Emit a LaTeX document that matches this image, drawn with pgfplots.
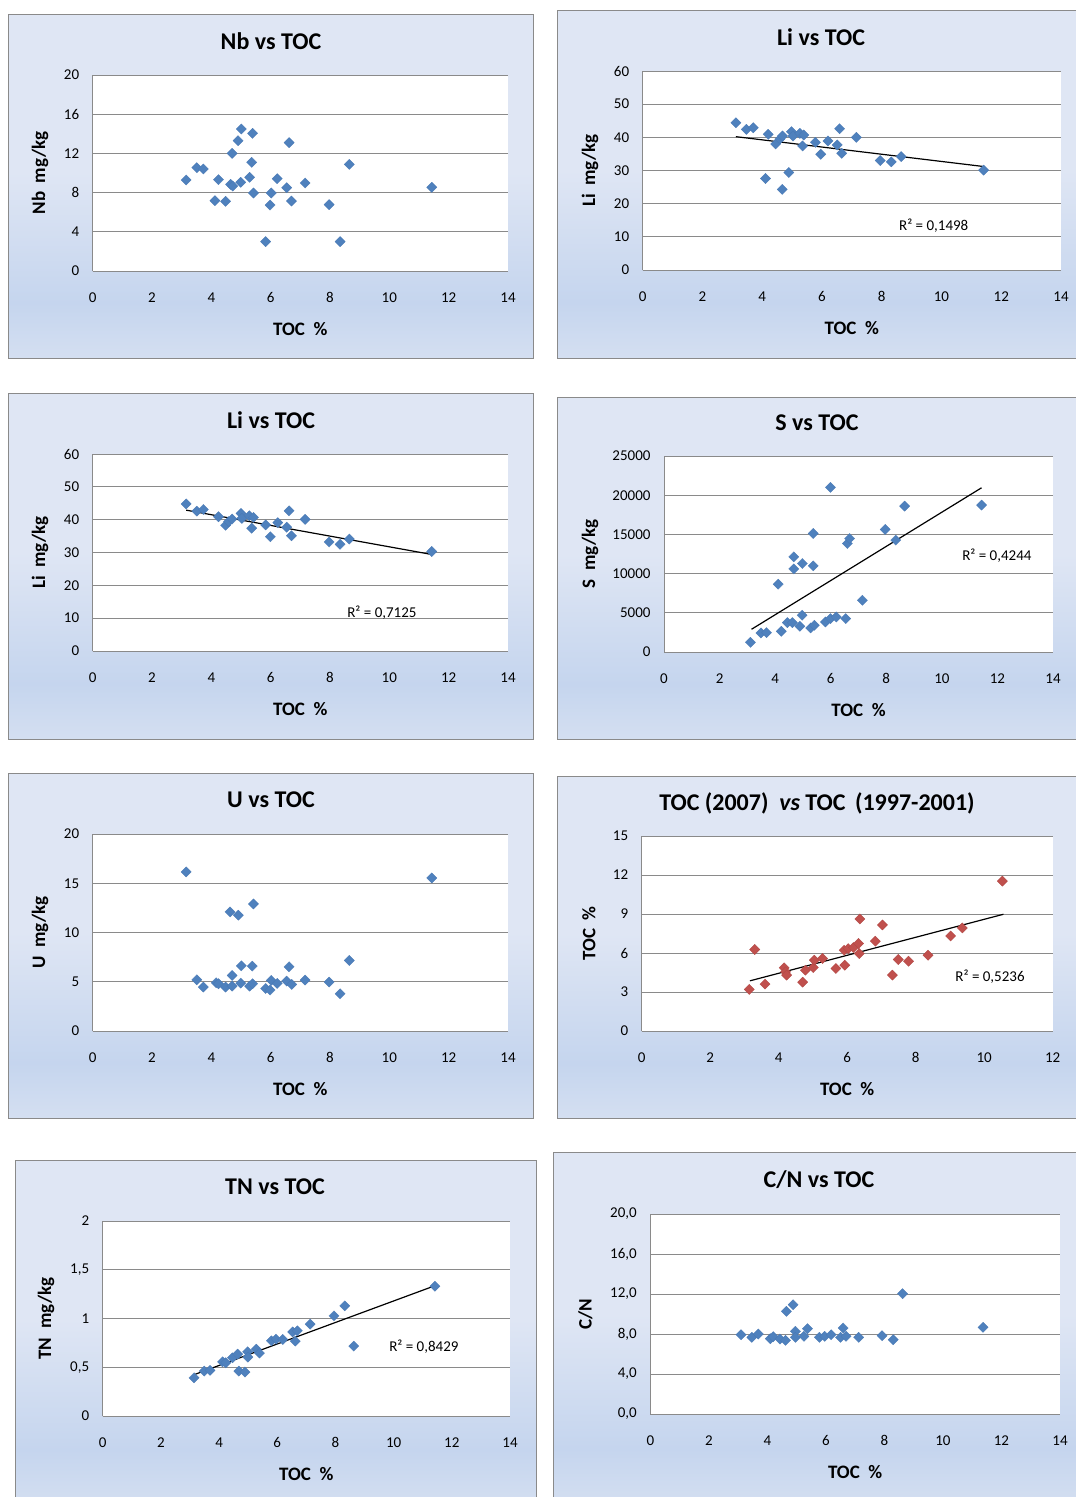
\documentclass[border=0pt]{standalone}
\usepackage{fontspec}
\setmainfont{Carlito}
\usepackage{pgfplots}
\pgfplotsset{compat=1.18}
\definecolor{mblue}{HTML}{4F81BD}
\definecolor{mbluedk}{HTML}{4878B4}
\definecolor{mred}{HTML}{C0504D}
\definecolor{mreddk}{HTML}{B04643}
\definecolor{gridg}{HTML}{8A8A8A}
\definecolor{pa}{HTML}{DFE6F4}
\definecolor{pb}{HTML}{C5D5EE}
\definecolor{pc}{HTML}{D4DFF1}
\pgfdeclareverticalshading{panelshade}{100bp}{color(0bp)=(pc); color(25bp)=(pc); color(33bp)=(pb); color(52bp)=(pa); color(75bp)=(pa); color(100bp)=(pa)}
\pgfplotsset{
  xl/.style={
    scale only axis,
    axis x line*=bottom, axis y line*=left,
    axis line style={gridg, line width=1pt},
    ymajorgrids, grid style={gridg, line width=1pt},
    major tick length=0pt,
    axis background/.style={fill=white},
    tick label style={font=\fontsize{15}{18}\selectfont, text=black},
    /pgf/number format/assume math mode=true,
    /pgf/number format/use comma,
    /pgf/number format/1000 sep={},
    scaled ticks=false,
    xmin=0, xmax=14, xtick={0,2,...,14}, ymin=0,
    xticklabel style={yshift=-18pt},
    yticklabel style={xshift=-10pt},
    xlabel={TOC\ \ \%},
    xlabel style={font=\bfseries\fontsize{19}{22}\selectfont, at={([yshift=-58pt]axis description cs:0.5,0)}, anchor=center},
    ylabel style={font=\bfseries\fontsize{19}{22}\selectfont, anchor=center},
  },
  ylab/.style={ylabel style={at={([xshift=-#1]axis description cs:0,0.5)}}},
  dmark/.style={only marks, mark=square*, mark size=3.6pt, mark options={rotate=45, fill=mblue, draw=mbluedk, line width=0.3pt}},
  rmark/.style={only marks, mark=square*, mark size=3.6pt, mark options={rotate=45, fill=mred, draw=mreddk, line width=0.3pt}},
  trend/.style={black, line width=1.2pt, no marks},
}
\newcommand{\rsq}{\fontsize{15}{18}\selectfont}
\begin{document}
\begin{tikzpicture}
\path[use as bounding box] (0,0) rectangle (1076pt,-1497pt);
% panels
\shade[shading=panelshade, draw=gridg, line width=1pt] (8pt,-14pt) rectangle (533pt,-358pt);
\shade[shading=panelshade, draw=gridg, line width=1pt] (557pt,-10pt) rectangle (1082pt,-358pt);
\shade[shading=panelshade, draw=gridg, line width=1pt] (8pt,-393pt) rectangle (533pt,-739pt);
\shade[shading=panelshade, draw=gridg, line width=1pt] (557pt,-397pt) rectangle (1082pt,-739pt);
\shade[shading=panelshade, draw=gridg, line width=1pt] (8pt,-773pt) rectangle (533pt,-1118pt);
\shade[shading=panelshade, draw=gridg, line width=1pt] (557pt,-776pt) rectangle (1082pt,-1118pt);
\shade[shading=panelshade, draw=gridg, line width=1pt] (15pt,-1160pt) rectangle (536pt,-1505pt);
\shade[shading=panelshade, draw=gridg, line width=1pt] (553pt,-1152pt) rectangle (1082pt,-1505pt);
% titles
\begin{scope}[every node/.style={font=\bfseries\fontsize{24}{28}\selectfont}]
\node at (271pt,-41pt) {Nb vs TOC};
\node at (821pt,-37pt) {Li vs TOC};
\node at (271pt,-420pt) {Li vs TOC};
\node at (817pt,-423pt) {S vs TOC};
\node at (271pt,-800pt) {U vs TOC};
\node at (817pt,-803pt) {TOC (2007)\ \ {\itshape vs} TOC\,\ (1997-2001)};
\node at (275pt,-1187pt) {TN vs TOC};
\node at (819pt,-1180pt) {C/N vs TOC};
\end{scope}

% P1 Nb
\begin{axis}[xl, at={(92.7pt,-271pt)}, anchor=south west, width=415.3pt, height=196pt,
  ymax=20, ytick={0,4,...,20}, ylabel={Nb\ \ mg/kg}, ylab=52.7pt]
\addplot[dmark] coordinates {
(3.15,9.29)(3.51,10.54)(3.73,10.41)(4.12,7.18)(4.24,9.32)(4.48,7.11)(4.65,8.84)
(4.70,12.0)(4.72,8.67)(4.90,13.3)(4.99,9.05)(5.01,14.49)(5.29,9.56)(5.36,11.09)
(5.39,14.05)(5.42,7.96)(5.83,3.0)(5.98,6.73)(6.02,7.96)(6.22,9.42)(6.54,8.5)
(6.62,13.1)(6.70,7.14)(7.16,8.98)(7.97,6.77)(8.34,3.0)(8.65,10.88)(11.43,8.54)};
\end{axis}

% P2 Li all
\begin{axis}[xl, at={(642.7pt,-270pt)}, anchor=south west, width=418.3pt, height=199pt,
  ymax=60, ytick={0,10,...,60}, ylabel={Li\ \ mg/kg}, ylab=52.7pt]
\addplot[dmark] coordinates {
(3.12,44.4)(3.47,42.4)(3.70,42.9)(4.11,27.6)(4.20,40.9)(4.45,38.0)(4.59,39.5)
(4.67,24.3)(4.68,40.4)(4.89,29.4)(4.98,41.7)(5.03,40.4)(5.26,41.2)(5.35,37.4)
(5.39,40.7)(5.78,38.5)(5.96,34.9)(6.20,38.9)(6.51,37.7)(6.59,42.6)(6.66,35.2)
(7.15,40.0)(7.95,33.0)(8.32,32.6)(8.65,34.2)(11.41,30.1)};
\addplot[trend] coordinates {(3.12,40.2)(11.41,31.2)};
\node[font=\rsq] at (axis cs:9.74,13.3) {R² = 0,1498};
\end{axis}

% P3 Li filtered
\begin{axis}[xl, at={(92.7pt,-651pt)}, anchor=south west, width=415.3pt, height=197pt,
  ymax=60, ytick={0,10,...,60}, ylabel={Li\ \ mg/kg}, ylab=52.7pt]
\addplot[dmark] coordinates {
(3.15,44.8)(3.51,42.6)(3.73,43.1)(4.24,40.9)(4.48,38.3)(4.58,39.4)(4.70,40.2)
(5.00,41.9)(5.03,40.4)(5.28,41.2)(5.42,40.7)(5.36,37.4)(5.83,38.4)(5.99,34.8)
(6.24,39.1)(6.54,37.7)(6.62,42.7)(6.70,35.1)(7.16,40.1)(7.97,33.2)(8.34,32.5)
(8.65,34.1)(11.43,30.3)};
\addplot[trend] coordinates {(3.15,42.9)(11.43,29.4)};
\node[font=\rsq] at (axis cs:9.75,11.6) {R² = 0,7125};
\end{axis}

% P4 S
\begin{axis}[xl, at={(664pt,-652pt)}, anchor=south west, width=389pt, height=196pt,
  ymax=25000, ytick={0,5000,...,25000}, ylabel={S\ \ mg/kg}, ylab=74pt]
\addplot[dmark] coordinates {
(3.11,1235)(3.49,2430)(3.69,2470)(4.11,8650)(4.22,2640)(4.44,3750)(4.62,3750)
(4.67,12140)(4.67,10600)(4.89,3280)(4.97,4690)(4.98,11290)(5.28,3070)(5.37,10990)
(5.37,15120)(5.41,3410)(5.81,3830)(5.99,4260)(5.99,21000)(6.20,4470)(6.54,4260)
(6.60,13840)(6.68,14480)(7.14,6600)(7.96,15630)(8.34,14270)(8.66,18610)(11.43,18740)};
\addplot[trend] coordinates {(3.15,2900)(11.43,20950)};
\node[font=\rsq] at (axis cs:11.98,12245) {R² = 0,4244};
\end{axis}

% P5 U
\begin{axis}[xl, at={(92.7pt,-1031pt)}, anchor=south west, width=415.3pt, height=197pt,
  ymax=20, ytick={0,5,...,20}, ylabel={U\ \ mg/kg}, ylab=52.7pt]
\addplot[dmark] coordinates {
(3.15,16.15)(3.51,5.2)(3.73,4.46)(4.16,4.9)(4.24,4.8)(4.48,4.46)(4.63,12.09)
(4.70,4.56)(4.70,5.64)(4.91,11.76)(4.99,4.86)(5.01,6.62)(5.29,4.56)(5.38,6.59)
(5.39,4.8)(5.42,12.9)(5.83,4.32)(5.98,4.16)(6.02,5.14)(6.22,4.83)(6.54,5.07)
(6.62,6.52)(6.71,4.73)(7.16,5.17)(7.97,4.97)(8.34,3.78)(8.65,7.16)(11.43,15.54)};
\end{axis}

% P6 TOC vs TOC
\begin{axis}[xl, at={(641.7pt,-1031pt)}, anchor=south west, width=411pt, height=195pt,
  xmax=12, xtick={0,2,...,12}, ymax=15, ytick={0,3,...,15}, ylabel={TOC\ \ \%}, ylab=52.7pt]
\addplot[rmark] coordinates {
(3.14,3.20)(3.30,6.27)(3.60,3.61)(4.16,4.86)(4.20,4.55)(4.23,4.30)(4.70,3.76)
(4.78,4.68)(5.01,4.88)(5.04,5.45)(5.28,5.58)(5.67,4.81)(5.91,6.21)(5.93,5.06)
(6.03,6.34)(6.18,6.42)(6.33,6.73)(6.35,5.96)(6.37,8.62)(6.82,6.91)(7.03,8.16)
(7.32,4.30)(7.49,5.50)(7.79,5.37)(8.36,5.83)(9.02,7.31)(9.36,7.93)(10.53,11.53)};
\addplot[trend] coordinates {(3.16,3.86)(10.56,8.98)};
\node[font=\rsq] at (axis cs:10.17,4.15) {R² = 0,5236};
\end{axis}

% P7 TN
\begin{axis}[xl, at={(102.7pt,-1416pt)}, anchor=south west, width=407.3pt, height=195pt,
  ymax=2, ytick={0,0.5,...,2}, ylabel={TN\ \ mg/kg}, ylab=56.7pt]
\addplot[dmark] coordinates {
(3.14,0.392)(3.49,0.461)(3.69,0.468)(4.12,0.556)(4.23,0.546)(4.46,0.597)(4.64,0.635)
(4.68,0.461)(4.89,0.451)(4.98,0.659)(4.99,0.604)(5.28,0.686)(5.39,0.645)(5.80,0.771)
(5.96,0.788)(6.19,0.785)(6.53,0.863)(6.62,0.768)(6.69,0.874)(7.13,0.942)(7.95,1.027)
(8.32,1.130)(8.63,0.717)(11.42,1.331)};
\addplot[trend] coordinates {(3.17,0.427)(11.37,1.331)};
\node[font=\rsq] at (axis cs:11.04,0.708) {R² = 0,8429};
\end{axis}

% P8 C/N
\begin{axis}[xl, at={(650.3pt,-1414pt)}, anchor=south west, width=409.7pt, height=200pt,
  ymax=20, ytick={0,4,...,20}, ylabel={C/N}, ylab=65pt,
  yticklabel style={/pgf/number format/fixed, /pgf/number format/zerofill, /pgf/number format/precision=1}]
\addplot[dmark] coordinates {
(3.10,7.93)(3.47,7.67)(3.69,8.0)(4.10,7.53)(4.20,7.73)(4.43,7.5)(4.62,7.37)
(4.65,10.27)(4.88,10.93)(4.96,8.27)(4.96,7.67)(5.25,7.77)(5.37,8.53)(5.78,7.67)
(5.96,7.77)(6.18,7.93)(6.50,7.67)(6.59,8.6)(6.69,7.77)(7.12,7.67)(7.92,7.83)
(8.30,7.43)(8.62,12.03)(11.37,8.67)};
\end{axis}
\end{tikzpicture}
\end{document}
